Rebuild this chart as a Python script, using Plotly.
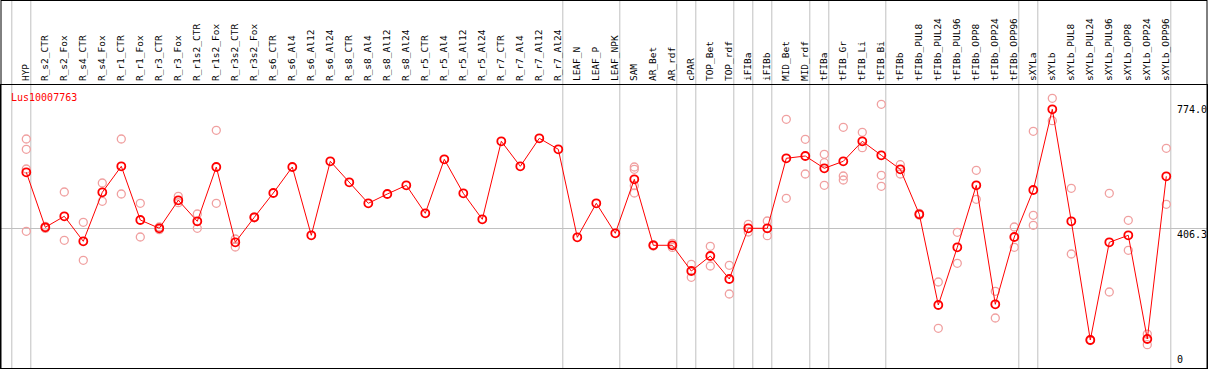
import plotly.graph_objects as go

# ---------------- data ----------------
gene_id = "Lus10007763"

categories = [
    "HYP", "R_s2_CTR", "R_s2_Fox", "R_s4_CTR", "R_s4_Fox", "R_r1_CTR", "R_r1_Fox",
    "R_r3_CTR", "R_r3_Fox", "R_r1s2_CTR", "R_r1s2_Fox", "R_r3s2_CTR", "R_r3s2_Fox",
    "R_s6_CTR", "R_s6_Al4", "R_s6_Al12", "R_s6_Al24", "R_s8_CTR", "R_s8_Al4",
    "R_s8_Al12", "R_s8_Al24", "R_r5_CTR", "R_r5_Al4", "R_r5_Al12", "R_r5_Al24",
    "R_r7_CTR", "R_r7_Al4", "R_r7_Al12", "R_r7_Al24", "LEAF_N", "LEAF_P", "LEAF_NPK",
    "SAM", "AR_Bet", "AR_rdf", "cPAR", "TOP_Bet", "TOP_rdf", "iFIBa", "iFIBb",
    "MID_Bet", "MID_rdf", "tFIBa", "tFIB_Gr", "tFIB_Li", "tFIB_Bi", "tFIBb",
    "tFIBb_PUL8", "tFIBb_PUL24", "tFIBb_PUL96", "tFIBb_OPP8", "tFIBb_OPP24",
    "tFIBb_OPP96", "sXYLa", "sXYLb", "sXYLb_PUL8", "sXYLb_PUL24", "sXYLb_PUL96",
    "sXYLb_OPP8", "sXYLb_OPP24", "sXYLb_OPP96",
]

mean_values = [
    570.9, 409.1, 441.5, 367.9, 512.1, 588.5, 430.6,
    406.2, 488.5, 426.8, 586.5, 365.0, 438.5,
    510.0, 586.5, 385.6, 603.2, 541.5, 479.7,
    507.1, 532.6, 450.3, 609.1, 509.1, 432.6,
    662.1, 588.5, 670.9, 638.5, 379.7, 479.7, 391.5,
    550.3, 356.2, 356.2, 280.6, 324.7, 257.1, 406.2, 406.2,
    612.1, 618.8, 582.6, 603.2, 662.1, 620.9, 579.7,
    447.4, 180.6, 350.3, 532.6, 182.6,
    380.6, 518.8, 756.2, 426.8, 77.6, 365.0,
    385.6, 80.6, 559.1,
]

replicates = [
    [668.8, 638.5, 580.6, 397.4], [412.0, 406.0], [512.9, 370.9], [423.8, 312.1],
    [539.4, 485.6], [668.8, 507.1], [479.7, 380.6],
    [410.0, 402.0], [500.3, 481.5], [448.2, 406.2], [694.4, 479.7], [374.7, 351.2],
    [440.0, 437.0],
    [], [], [], [], [], [],
    [], [], [], [], [], [],
    [], [], [], [], [], [], [],
    [586.5, 579.7, 531.5, 510.0], [358.0, 354.0], [362.0, 350.0], [300.3, 262.1],
    [353.2, 295.3], [297.4, 212.9], [417.9, 395.3], [427.6, 384.4],
    [726.8, 494.4], [668.0, 565.9], [623.8, 599.1, 532.6], [703.2, 560.0, 548.2],
    [688.5, 643.2], [770.9, 562.1, 529.7], [593.2, 565.9],
    [450.0, 445.0], [248.2, 112.1], [394.4, 303.2], [576.8, 491.5], [220.9, 142.4],
    [410.0, 350.3], [691.5, 444.4, 415.0], [788.5, 722.6], [523.8, 330.6], [79.0, 76.0],
    [509.1, 218.8], [429.7, 341.5], [95.0, 64.0], [641.5, 476.8],
]

y_tick_values = [774.0, 406.3, 0]
y_tick_labels = ["774.0", "406.3", "0"]

# index of the last category in each sample group (-1 = before first)
group_ends = [-1, 0, 28, 31, 34, 35, 37, 38, 39, 41, 42, 45, 52, 53, 60]

# ---------------- layout geometry ----------------
W, H = 1209, 370
ML, MR, MT, MB = 1, 2, 85, 2
plot_w = W - ML - MR
plot_h = H - MT - MB
px_per_cat = 19.0
first_cat_px = 26.3          # absolute x of first category
px_per_unit = 0.34
zero_px = 366.4              # absolute y of value 0

x_lo = -(first_cat_px - ML) / px_per_cat
x_hi = x_lo + plot_w / px_per_cat
y_lo = -((H - MB) - zero_px) / px_per_unit
y_hi = y_lo + plot_h / px_per_unit

FONT = "DejaVu Sans Mono"
RED = "#ff0000"
PALE = "#f0a0a0"
GRID = "#c0c0c0"

rep_x, rep_y = [], []
for cat, reps in zip(categories, replicates):
    for v in reps:
        rep_x.append(cat)
        rep_y.append(v)

fig = go.Figure()
fig.add_trace(go.Scatter(
    x=rep_x, y=rep_y, mode="markers",
    marker=dict(symbol="circle-open", size=8, color=PALE, line=dict(width=1.3)),
    hoverinfo="x+y", showlegend=False,
))
fig.add_trace(go.Scatter(
    x=categories, y=mean_values, mode="lines+markers",
    line=dict(color=RED, width=1),
    marker=dict(symbol="circle-open", size=8, color=RED, line=dict(width=1.8)),
    showlegend=False,
))

shapes = []
top_paper = 1 + MT / plot_h
for g in group_ends:
    xpos = g + 0.5 - 5.0 / px_per_cat
    shapes.append(dict(type="line", xref="x", yref="paper", x0=xpos, x1=xpos,
                       y0=0, y1=top_paper, line=dict(color=GRID, width=1),
                       layer="below"))
# outer top frame line
shapes.append(dict(type="line", xref="paper", yref="paper", x0=0, x1=1,
                   y0=top_paper, y1=top_paper, line=dict(color="black", width=2)))
# outer left / right frame lines through label area
for xp in (0, 1):
    shapes.append(dict(type="line", xref="paper", yref="paper", x0=xp, x1=xp,
                       y0=0, y1=top_paper, line=dict(color="black", width=1)))

annotations = [dict(
    text=gene_id, xref="paper", yref="paper",
    x=(9 - ML) / plot_w, y=1 - (90 - MT) / plot_h,
    xanchor="left", yanchor="top", showarrow=False,
    font=dict(family=FONT, size=10, color=RED),
)]
y_min_tick = min(y_tick_values)
for v, t in zip(y_tick_values, y_tick_labels):
    annotations.append(dict(
        text=t, xref="paper", yref="y", x=(1176 - ML) / plot_w, y=v,
        xanchor="left", yanchor="bottom" if v == y_min_tick else "top",
        showarrow=False, borderpad=0,
        font=dict(family=FONT, size=10, color="black"),
    ))

fig.update_layout(
    width=W, height=H,
    margin=dict(l=ML, r=MR, t=MT, b=MB, pad=0),
    paper_bgcolor="white", plot_bgcolor="white",
    shapes=shapes, annotations=annotations,
    font=dict(family=FONT, size=10, color="black"),
    xaxis=dict(
        type="category", categoryorder="array", categoryarray=categories,
        range=[x_lo, x_hi], side="top", tickangle=-90, ticks="",
        showgrid=False, zeroline=False, showline=True, linecolor="black",
        linewidth=1, mirror=True, ticklabelstandoff=1,
        tickfont=dict(family=FONT, size=9.5, color="black"),
    ),
    yaxis=dict(
        range=[y_lo, y_hi], side="right", showticklabels=False, ticks="",
        tickvals=[406.3], showgrid=True, gridcolor=GRID, gridwidth=1,
        zeroline=False, showline=True, linecolor="black", linewidth=1, mirror=True,
    ),
)

fig.write_html(
    "out.html",
    config={"displayModeBar": False},
    post_script="document.body.style.margin='0';document.body.style.overflow='hidden';",
)
